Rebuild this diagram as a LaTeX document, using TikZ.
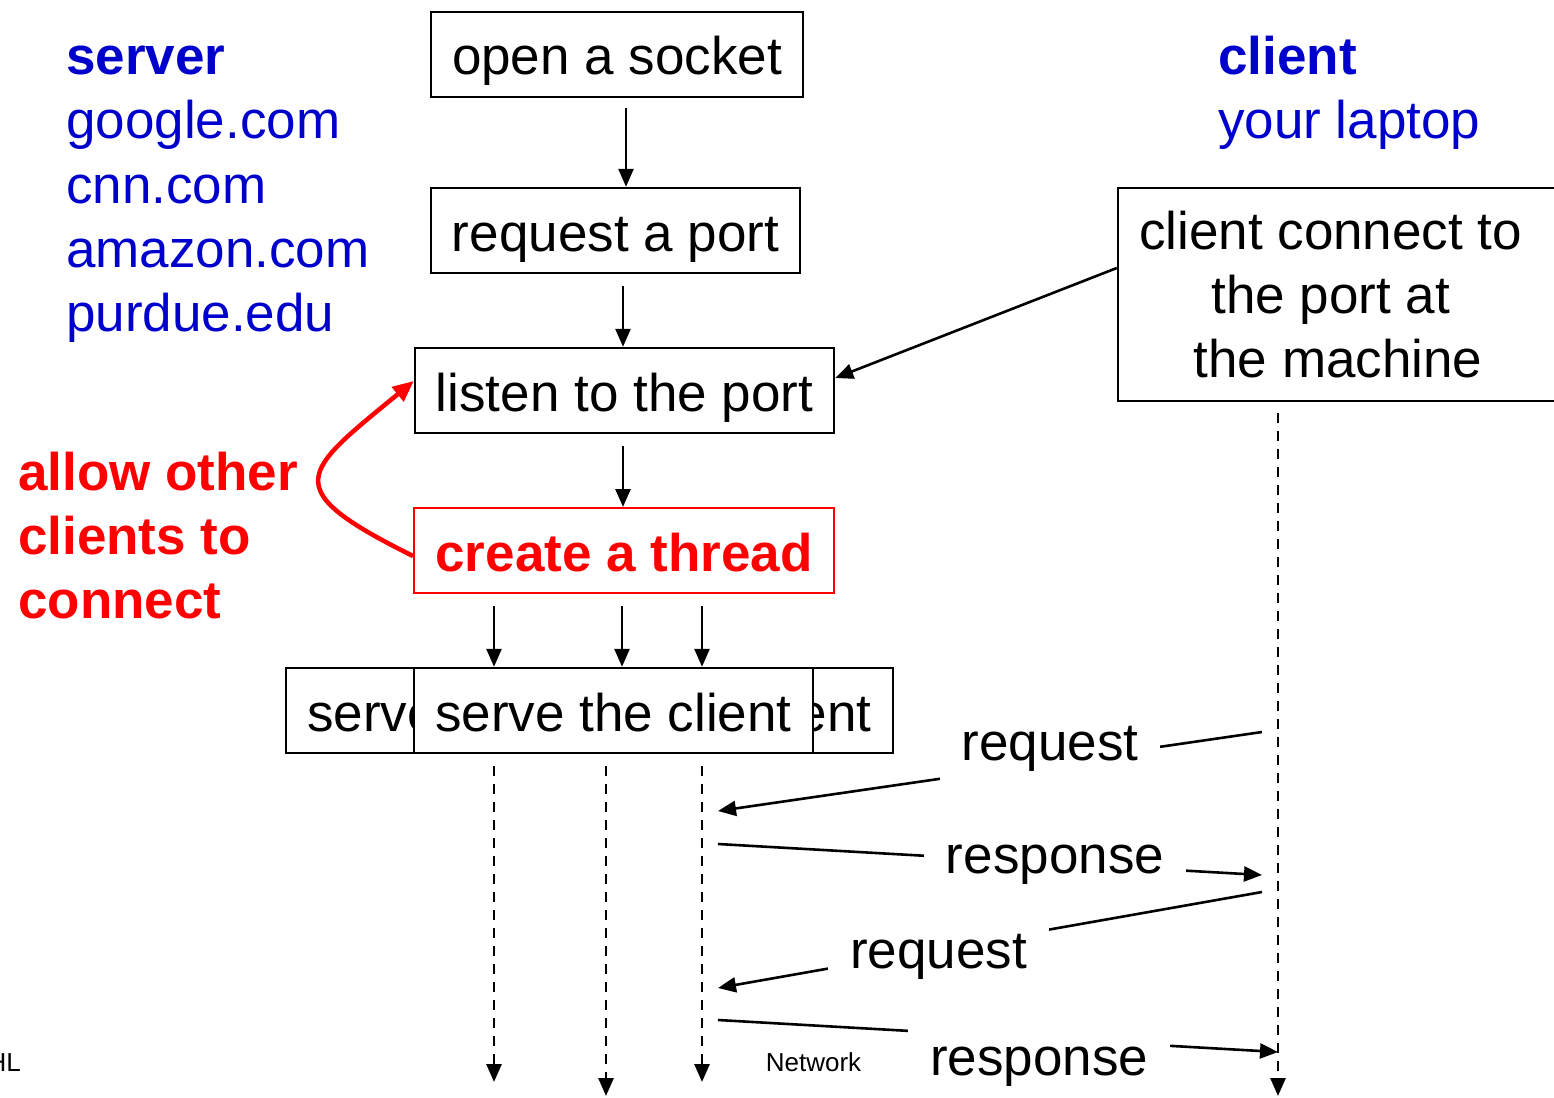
\documentclass[tikz,border=0pt]{standalone}
\usepackage{fontspec}
\setmainfont{Liberation Sans}
\usetikzlibrary{arrows.meta,calc}
\definecolor{myblue}{RGB}{0,0,204}
\definecolor{myred}{RGB}{255,0,0}
\begin{document}
\begin{tikzpicture}[x=1pt,y=-1pt,
  big/.style={font=\fontsize{53}{64}\selectfont},
  box/.style={big, draw=black, line width=2.4pt, fill=white, minimum height=85pt,
    text height=45pt, text depth=4pt, inner xsep=0pt, inner ysep=0pt},
  arr/.style={line width=2.6pt, -{Triangle[length=18pt,width=15pt]}},
  dsh/.style={line width=2.8pt, dash pattern=on 10pt off 8pt, -{Triangle[length=18pt,width=15pt]}},
  lbl/.style={big, fill=white, inner xsep=22pt, inner ysep=12pt, anchor=base,
    text height=38pt, text depth=11pt},
  txt/.style={big, inner sep=0pt, anchor=base west},
  small/.style={font=\fontsize{26}{30}\selectfont, inner sep=0pt}
]
\useasboundingbox (0,0) rectangle (1554,1097);

% left labels
\node[txt, text=myblue, font=\fontsize{53}{64}\selectfont\bfseries] (srv) at (66,75) {server};
\node[txt, text=myblue] (g) at (66,139) {google.com};
\node[txt, text=myblue] (cnn) at (66,203) {cnn.com};
\node[txt, text=myblue] (amz) at (66,267) {amazon.com};
\node[txt, text=myblue] (pur) at (66,331) {purdue.edu};

\node[txt, text=myblue, font=\fontsize{53}{64}\selectfont\bfseries] (cli) at (1218,75) {client};
\node[txt, text=myblue] (lap) at (1218,139) {your laptop};

\node[txt, text=myred, font=\fontsize{53}{64}\selectfont\bfseries] (al1) at (18,490) {allow other};
\node[txt, text=myred, font=\fontsize{53}{64}\selectfont\bfseries] (al2) at (18,554) {clients to};
\node[txt, text=myred, font=\fontsize{53}{64}\selectfont\bfseries] (al3) at (18,618) {connect};

% server flow
\node[box, minimum width=372pt] (open) at (617,54.5) {open a socket};
\node[box, minimum width=369pt] (req) at (615.5,230.5) {request a port};
\node[box, minimum width=419pt] (listen) at (624.5,390.5) {listen to the port};
\node[box, draw=myred, line width=2pt, minimum width=420pt, text=myred,
      font=\fontsize{53}{64}\selectfont\bfseries] (thread) at (624,550.5) {create a thread};
\node[box, minimum width=399pt] (serveL) at (485.5,710.5) {serve the client};
\node[box, minimum width=399pt] (serveR) at (693.5,710.5) {serve the client};
\node[box, minimum width=399pt] (serve) at (613.5,710.5) {serve the client};

% client box
\node[big, draw=black, line width=2.4pt, minimum width=440pt, minimum height=213pt,
      align=center, inner sep=0pt] (client) at (1338,294.5)
      {client connect to\kern0.278em\\the port at\kern0.278em\\the machine};

% vertical arrows
\draw[arr, shorten <=10pt] ([xshift=9pt]open.south) -- ([xshift=10.5pt]req.north);
\draw[arr, shorten <=12pt] ([xshift=7.5pt]req.south) -- ([xshift=-1.5pt]listen.north);
\draw[arr, shorten <=12pt] ([xshift=-1.5pt]listen.south) -- ([xshift=-1pt]thread.north);
\draw[arr, shorten <=12pt] ([xshift=-130pt]thread.south) -- ([xshift=-119.5pt]serve.north);
\draw[arr, shorten <=12pt] ([xshift=-2pt]thread.south) -- ([xshift=8.5pt]serve.north);
\draw[arr, shorten <=12pt] ([xshift=78pt]thread.south) -- ([xshift=88.5pt]serve.north);

% client to listen
\draw[arr] ([yshift=26.5pt]client.west) -- ([yshift=12.5pt]listen.east);

% red loop
\draw[line width=4.5pt, myred, -{Triangle[length=21pt,width=18pt]}]
  ([yshift=-5.5pt]thread.west) .. controls (276,488) and (302,473) .. ([yshift=9.5pt]listen.west);

% dashed timelines
\coordinate (d1) at (494,1082);
\coordinate (d2) at (606,1096);
\coordinate (d3) at (702,1082);
\coordinate (d4) at (1278,1096);
\draw[dsh, shorten <=12pt] ([xshift=-119.5pt]serve.south) -- (d1);
\draw[dsh, shorten <=12pt] ([xshift=-7.5pt]serve.south) -- (d2);
\draw[dsh, shorten <=12pt] ([xshift=88.5pt]serve.south) -- (d3);
\draw[dsh, shorten <=11pt] ([xshift=-60pt]client.south) -- (d4);

% messages
\coordinate (q1a) at (1262,732);
\coordinate (q1b) at (718,811);
\coordinate (p1a) at (718,844);
\coordinate (p1b) at (1262,875);
\coordinate (q2a) at (1262,892);
\coordinate (q2b) at (718,988);
\coordinate (p2a) at (718,1020);
\coordinate (p2b) at (1278,1052);
\draw[arr] (q1a) -- (q1b);
\draw[arr] (p1a) -- (p1b);
\draw[arr] (q2a) -- (q2b);
\draw[arr] (p2a) -- (p2b);
\node[lbl] (lq1) at (1050,760) {request};
\node[lbl] (lp1) at (1055,873) {response};
\node[lbl] (lq2) at (938.5,968) {request};
\node[lbl] (lp2) at (1039,1075) {response};

% footer
\node[small, anchor=base] (net) at (813.5,1071) {Network};
\node[small, anchor=base east] (hl) at (21,1071) {HL};
\end{tikzpicture}
\end{document}
